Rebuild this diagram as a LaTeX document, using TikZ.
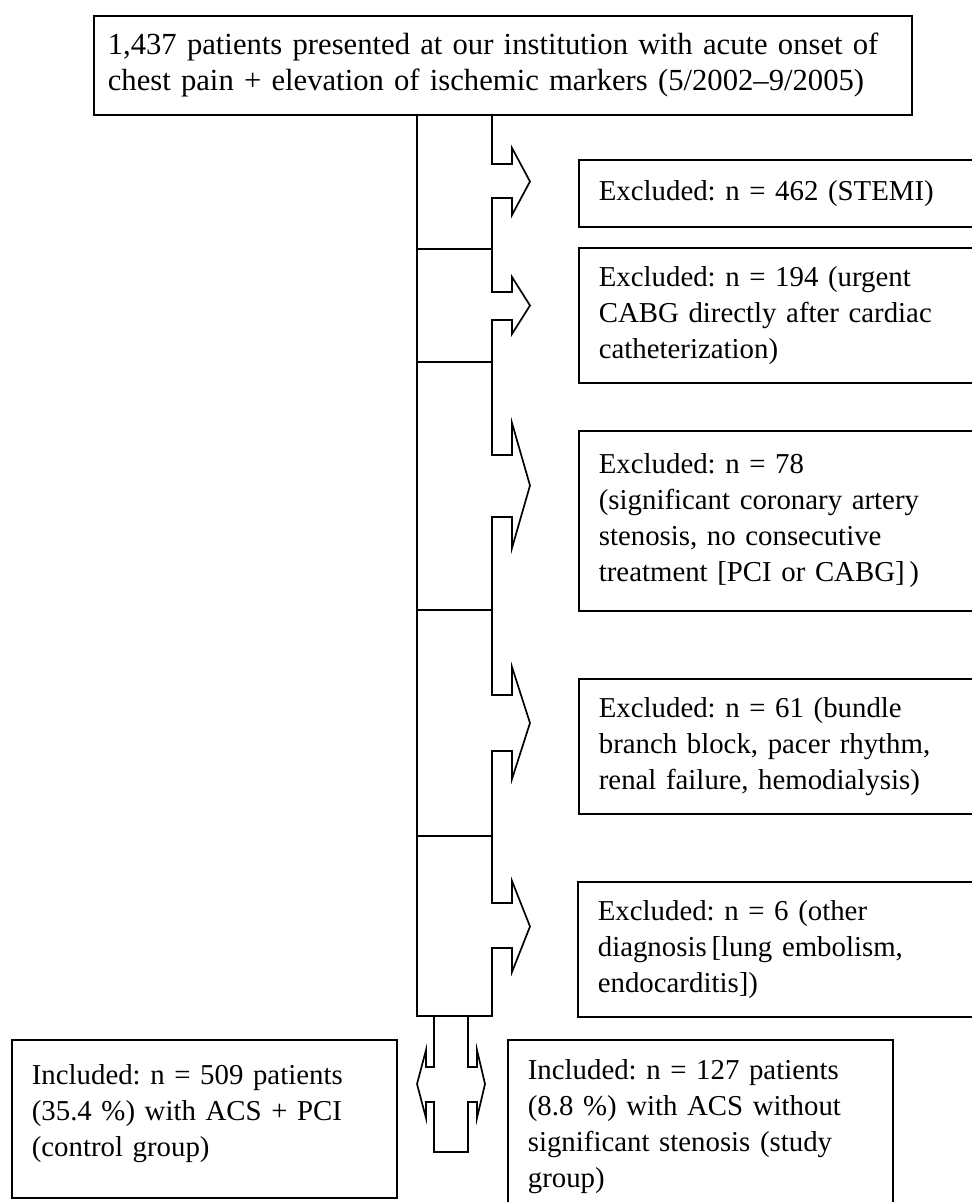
\documentclass[tikz,border=0pt]{standalone}
\usepackage{fontspec}
\setmainfont[WordSpace=1.5]{Liberation Serif}
\usepackage{tikz}
\usetikzlibrary{positioning,calc}
\frenchspacing
\tikzstyle{linea} = [line width=1.2pt, draw=black]
\tikzstyle{casella} = [rectangle, draw=black, line width=1.2pt, anchor=north west, align=left,
inner ysep=0pt, font=\fontsize{20.5}{25.6}\selectfont]
\tikzstyle{esclusi} = [casella, text width=9.8cm, inner xsep=0.5cm]
\tikzstyle{inclusi} = [casella, text width=8.625cm, inner xsep=0.5cm]

\begin{document}
\begin{tikzpicture}[x=0.025cm, y=-0.025cm]
	\useasboundingbox (0,0) rectangle (972,1202);
	\clip (0,0) rectangle (972,1202);
	\node (top) at (93,15) [casella, text width=19.75cm, inner xsep=0.35cm, minimum height=2.475cm, font=\fontsize{21.8}{25.6}\selectfont] {1,437 patients presented at our institution with acute onset of\\chest pain + elevation of ischemic markers (5/2002--9/2005)};
	\node (ex1) at (578,159) [esclusi, minimum height=1.675cm] {Excluded: n = 462 (STEMI)};
	\node (ex2) at (578,247) [esclusi, minimum height=3.375cm] {Excluded: n = 194 (urgent\\CABG directly after cardiac\\catheterization)};
	\node (ex3) at (578,430) [esclusi, minimum height=4.5cm] {Excluded: n = 78\\(significant coronary artery\\stenosis, no consecutive\\treatment [PCI or CABG]\,)};
	\node (ex4) at (578,678) [esclusi, minimum height=3.375cm] {Excluded: n = 61 (bundle\\branch block, pacer rhythm,\\renal failure, hemodialysis)};
	\node (ex5) at (577,881) [esclusi, minimum height=3.375cm] {Excluded: n = 6 (other\\diagnosis\,[lung embolism,\\endocarditis])};
	\node (inc1) at (11,1039) [inclusi, minimum height=3.95cm] {Included: n = 509 patients\\(35.4~\%) with ACS + PCI\\(control group)\\[-0.5cm]\mbox{}};
	\node (inc2) at (507,1039) [inclusi, minimum height=4.35cm] {Included: n = 127 patients\\(8.8~\%) with ACS without\\significant stenosis (study\\group)};
	% colonna con le frecce di esclusione
	\draw[linea] (492,114)
		foreach \a/\b/\c/\d in {164/198/148/215, 292/320/277/334, 455/517/423/548, 695/751/667/779, 903/948/881/972}
		{ -- (492,\a) -- (512,\a) -- (512,\c) -- (530,{(\c+\d)/2}) -- (512,\d) -- (512,\b) -- (492,\b) }
		-- (492,1016) -- (417,1016) -- (417,114);
	\foreach \y in {249,362,610,836}
		\draw[linea] (417,\y) -- (492,\y);
	% freccia doppia verso i gruppi
	\draw[linea] (434,1016) -- (434,1067) -- (426,1067) -- (426,1050) -- (417,1084) -- (426,1118) -- (426,1102) -- (434,1102) -- (434,1152)
		-- (468,1152) -- (468,1102) -- (477,1102) -- (477,1118) -- (485,1084) -- (477,1050) -- (477,1067) -- (468,1067) -- (468,1016);
\end{tikzpicture}
\end{document}
